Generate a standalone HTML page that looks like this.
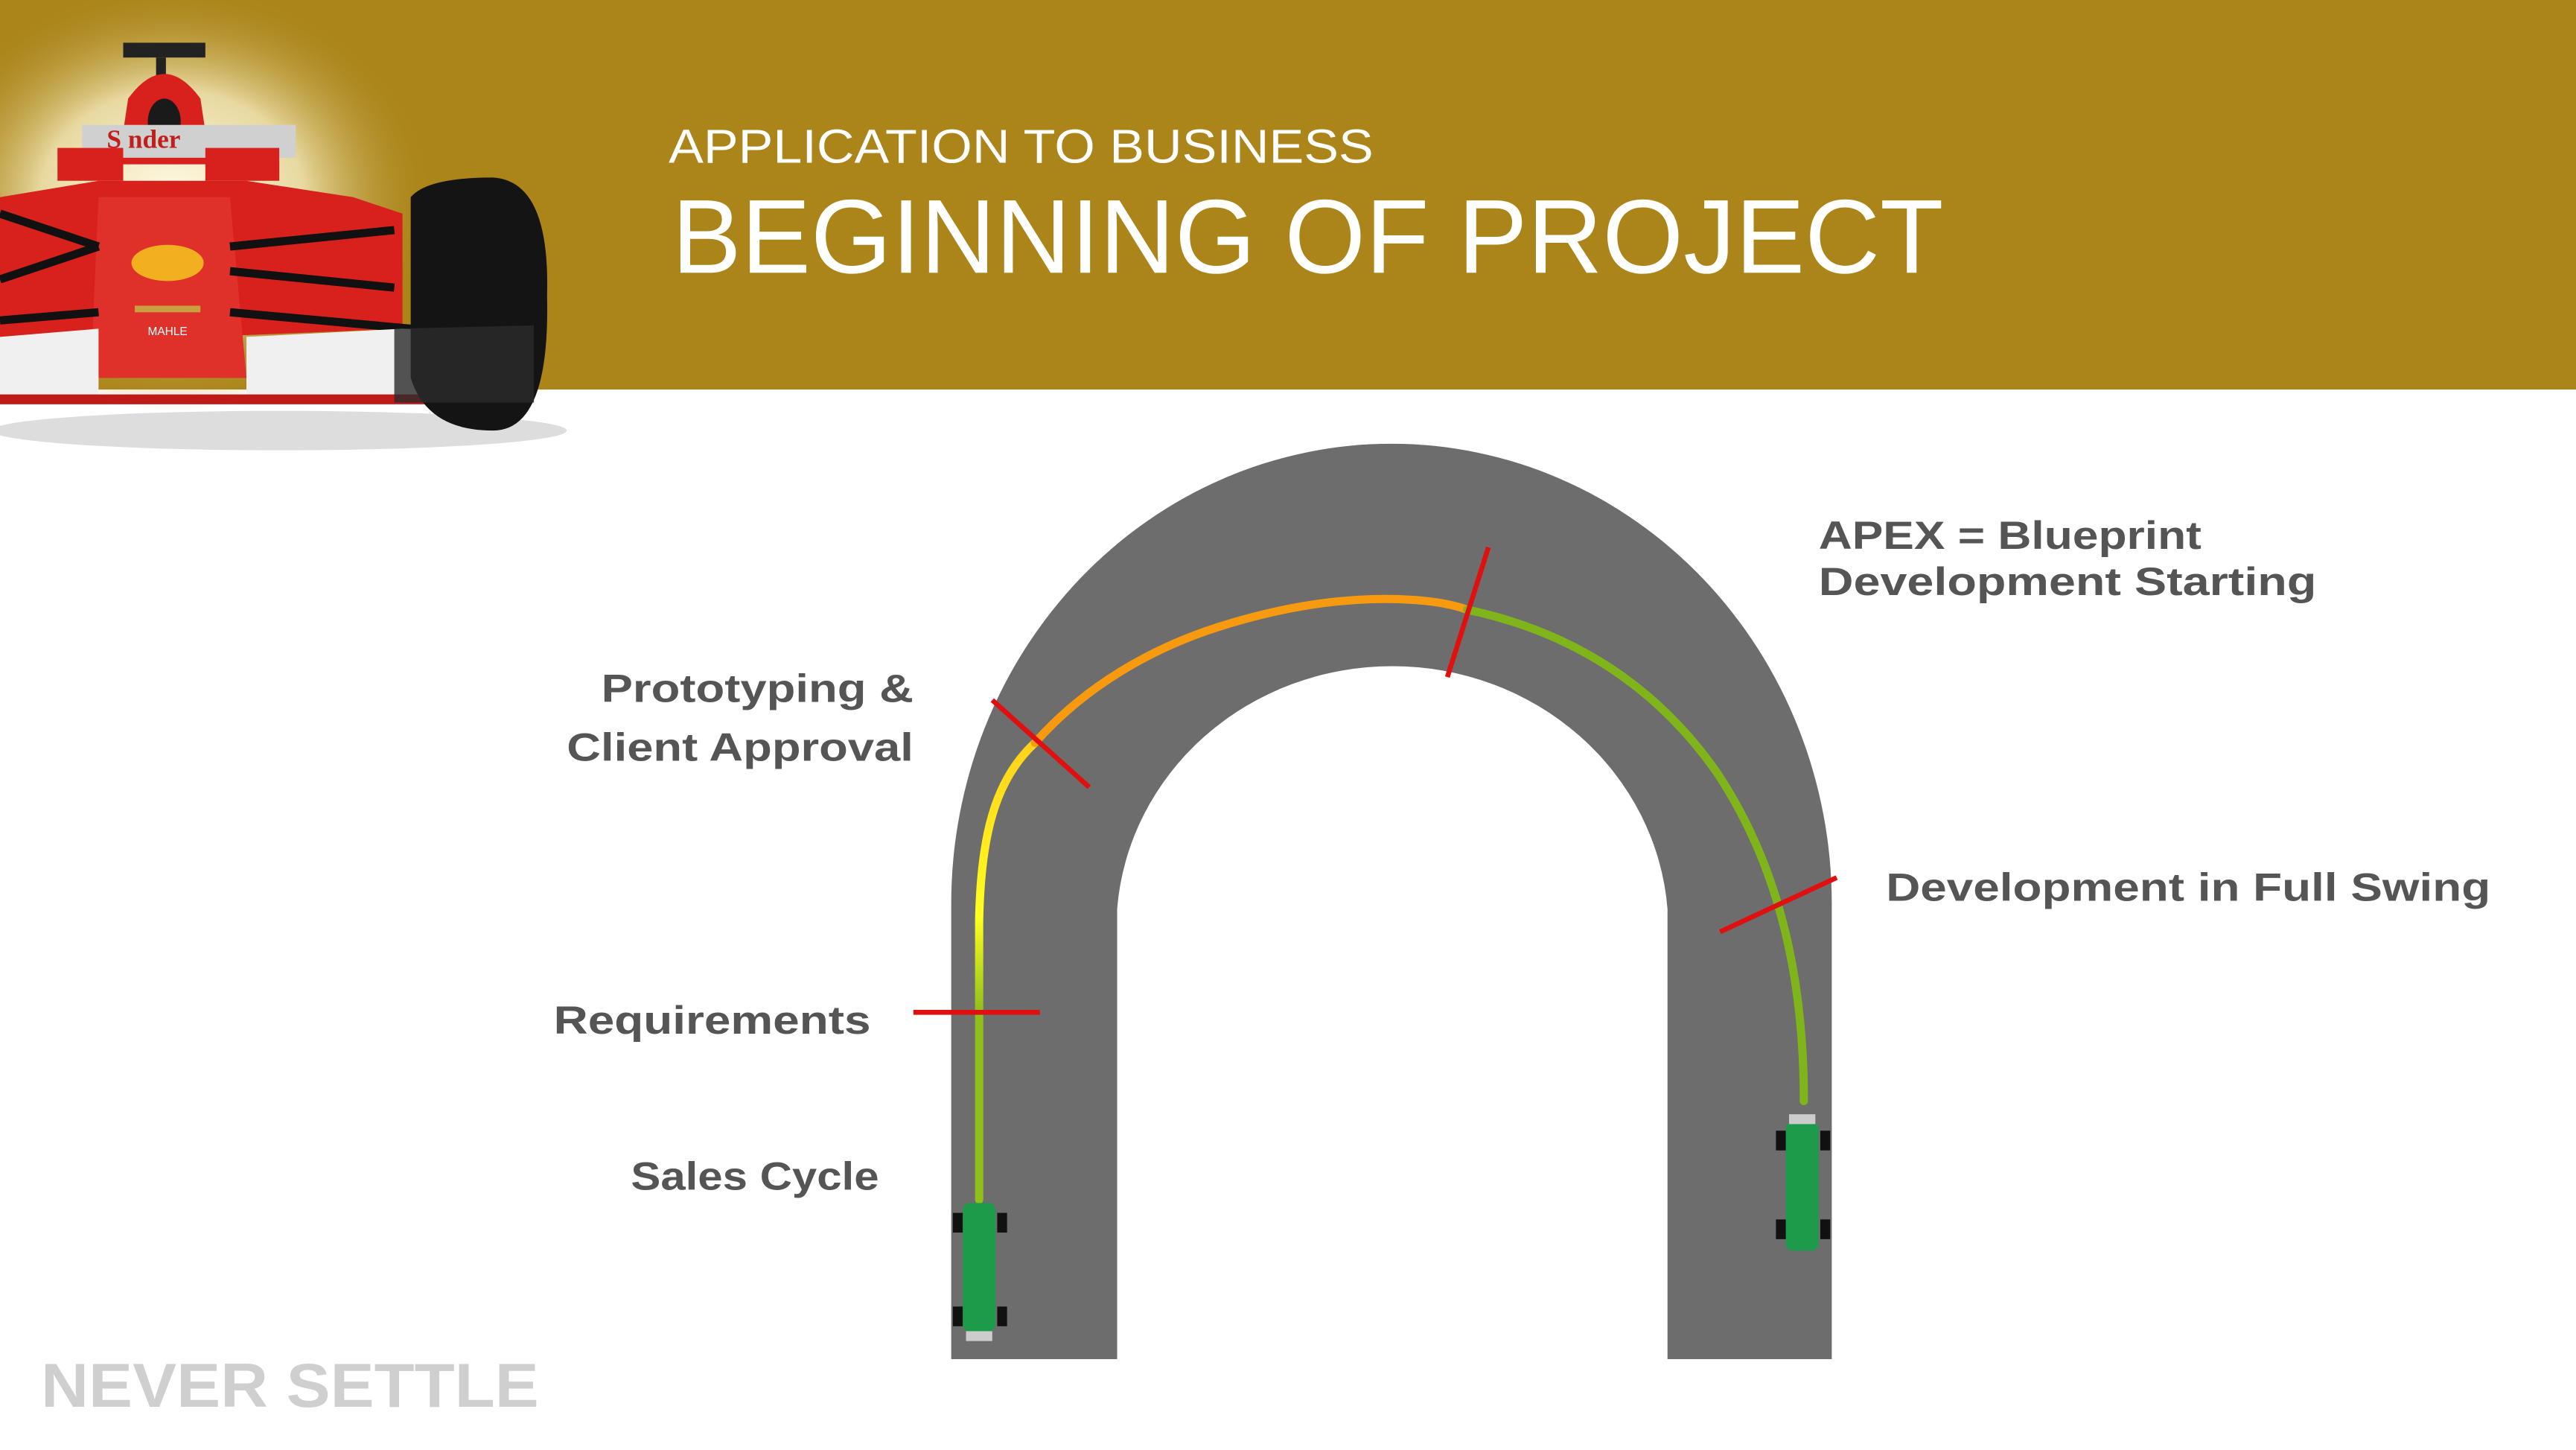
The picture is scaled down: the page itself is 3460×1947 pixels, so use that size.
<!DOCTYPE html>
<html><head><meta charset="utf-8"><style>
html,body{margin:0;padding:0;background:#fff;width:3460px;height:1947px;overflow:hidden}
svg{display:block}
</style></head><body>
<svg width="3460" height="1947" viewBox="0 0 1568 882.3" preserveAspectRatio="none" xmlns="http://www.w3.org/2000/svg">
<defs>
<radialGradient id="glow" cx="0.5" cy="0.5" r="0.5">
<stop offset="0" stop-color="#fffbe8"/><stop offset="0.5" stop-color="#e8d9a0"/><stop offset="1" stop-color="#ab8519" stop-opacity="0"/>
</radialGradient>
<linearGradient id="yl" x1="0" y1="1" x2="0" y2="0"><stop offset="0" stop-color="#8fbf1a"/><stop offset="0.35" stop-color="#ffff20"/><stop offset="1" stop-color="#ffd21a"/></linearGradient>
</defs>
<rect x="0" y="0" width="1568" height="237" fill="#ab8519"/>
<ellipse cx="105" cy="120" rx="160" ry="130" fill="url(#glow)"/>
<ellipse cx="170" cy="262" rx="175" ry="12" fill="#ddd"/>
<g>
<rect x="75" y="26" width="50" height="9" fill="#222"/>
<rect x="95" y="35" width="6" height="20" fill="#222"/>
<path d="M78,60 Q100,30 122,60 L128,100 L72,100 Z" fill="#d8201c"/>
<ellipse cx="100" cy="74" rx="10" ry="14" fill="#1a1a1a"/>
<rect x="50" y="76" width="130" height="20" fill="#d0d0d0"/>
<text x="65" y="90" font-family="Liberation Serif,serif" font-weight="bold" font-size="16" fill="#c0201c">S   nder</text>
<rect x="35" y="90" width="40" height="20" fill="#d8201c"/>
<rect x="125" y="90" width="45" height="20" fill="#d8201c"/>
<path d="M0,155 L0,120 L60,110 L150,110 L215,120 L245,130 L245,200 L0,210 Z" fill="#d8201c"/>
<path d="M60,120 L140,120 L150,230 L55,230 Z" fill="#e0302a"/>
<path d="M0,130 L60,150 M0,170 L60,150 M140,150 L240,140 M140,165 L240,175 M0,195 L60,190 M140,190 L250,200" stroke="#111" stroke-width="5"/>
<ellipse cx="102" cy="160" rx="22" ry="11" fill="#f2b020"/>
<rect x="82" y="186" width="40" height="4" fill="#c8a040"/>
<text x="102" y="204" text-anchor="middle" font-family="Liberation Sans,sans-serif" font-size="7" fill="#fff">MAHLE</text>
<path d="M0,205 L60,200 L60,245 L0,245 Z" fill="#f0f0f0"/>
<path d="M150,205 L245,200 L320,205 L320,245 L150,245 Z" fill="#f0f0f0"/>
<rect x="0" y="240" width="300" height="6" fill="#c01a18"/>
<path d="M250,120 Q260,108 300,108 Q335,110 333,180 Q335,262 300,262 Q260,262 250,230 Z" fill="#141414"/>
<path d="M240,200 L325,198 L325,245 L240,245 Z" fill="#2a2a2a" opacity="0.8"/>
</g>
<text x="407" y="99" font-family="Liberation Sans,sans-serif" font-size="29" fill="#fff" textLength="429" lengthAdjust="spacingAndGlyphs">APPLICATION TO BUSINESS</text>
<text x="409" y="166" font-family="Liberation Sans,sans-serif" font-size="64" fill="#fff" textLength="774" lengthAdjust="spacingAndGlyphs">BEGINNING OF PROJECT</text>
<path d="M579,827 L579,550 A268,280 0 0 1 1115,550 L1115,827 L1015,827 L1015,553 A168,160 0 0 0 680,553 L680,827 Z" fill="#6d6d6d"/>
<g fill="none" stroke-width="5" stroke-linecap="round">
<path d="M596,730 L596,615" stroke="#8fbf1a"/>
<path d="M596,615 L596,560 C597,510 605,475 630,452" stroke="url(#yl)"/>
<path d="M630,452 C660,418 700,395 740,382 C790,366 830,363 860,365 C875,366 885,368 893,371" stroke="#f79a10"/>
<path d="M893,371 C960,385 1010,420 1045,470 C1085,530 1098,600 1098,670" stroke="#7fb51a"/>
</g>
<g stroke="#e01010" stroke-width="3">
<line x1="556" y1="616" x2="633" y2="616"/>
<line x1="604" y1="426" x2="663" y2="479"/>
<line x1="906" y1="333" x2="881" y2="412"/>
<line x1="1047" y1="567" x2="1118" y2="534"/>
</g>
<g>
<rect x="586" y="732" width="20" height="78" rx="4" fill="#1d9a4a"/>
<rect x="580" y="738" width="6" height="12" fill="#111"/><rect x="607" y="738" width="6" height="12" fill="#111"/>
<rect x="580" y="795" width="6" height="12" fill="#111"/><rect x="607" y="795" width="6" height="12" fill="#111"/>
<rect x="588" y="810" width="16" height="6" fill="#ccc"/>
<rect x="1087" y="683" width="20" height="78" rx="4" fill="#1d9a4a"/>
<rect x="1081" y="688" width="6" height="12" fill="#111"/><rect x="1108" y="688" width="6" height="12" fill="#111"/>
<rect x="1081" y="742" width="6" height="12" fill="#111"/><rect x="1108" y="742" width="6" height="12" fill="#111"/>
<rect x="1089" y="678" width="16" height="6" fill="#ccc"/>
</g>
<g font-family="Liberation Sans,sans-serif" font-weight="bold" font-size="24" fill="#555" lengthAdjust="spacingAndGlyphs">
<text x="366" y="427" textLength="190" lengthAdjust="spacingAndGlyphs">Prototyping &amp;</text>
<text x="345" y="463" textLength="211" lengthAdjust="spacingAndGlyphs">Client Approval</text>
<text x="337" y="629" textLength="193" lengthAdjust="spacingAndGlyphs">Requirements</text>
<text x="384" y="724" textLength="151" lengthAdjust="spacingAndGlyphs">Sales Cycle</text>
<text x="1107" y="334" textLength="233" lengthAdjust="spacingAndGlyphs">APEX = Blueprint</text>
<text x="1107" y="362" textLength="303" lengthAdjust="spacingAndGlyphs">Development Starting</text>
<text x="1148" y="548" textLength="368" lengthAdjust="spacingAndGlyphs">Development in Full Swing</text>
</g>
<text x="25" y="856" font-family="Liberation Sans,sans-serif" font-weight="bold" font-size="38" fill="#cfcfcf" textLength="303" lengthAdjust="spacingAndGlyphs">NEVER SETTLE</text>
</svg>
</body></html>
